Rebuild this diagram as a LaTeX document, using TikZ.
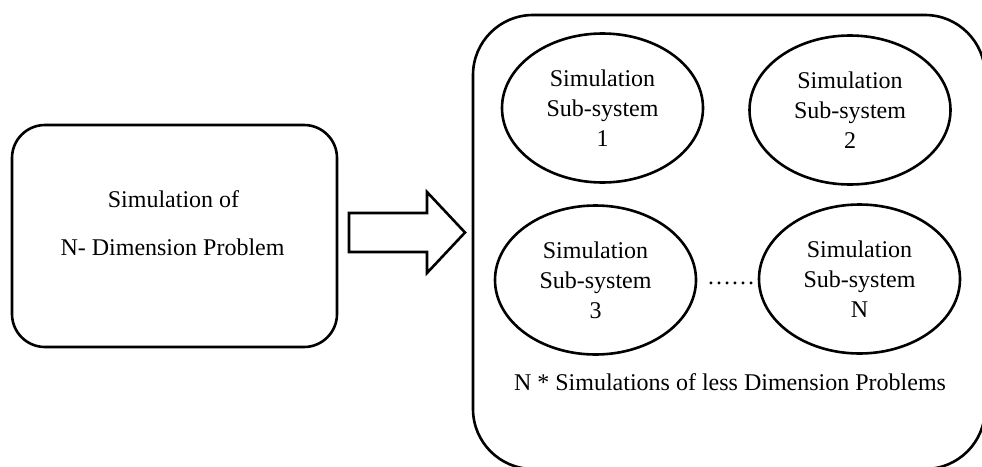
\documentclass[tikz,border=0pt]{standalone}
\usepackage{fontspec}
\setmainfont{Liberation Serif}
\usetikzlibrary{shapes.geometric}
\begin{document}
\begin{tikzpicture}[x=1pt,y=-1pt,
  line width=2.6pt,
  txt/.style={font=\fontsize{24}{30}\selectfont, inner sep=0pt, align=center},
  subsys/.style={draw, ellipse, minimum width=201pt, minimum height=149pt, inner sep=0pt,
                 font=\fontsize{24}{30}\selectfont, align=center},
  roundbox/.style={draw, rectangle, inner sep=0pt}]
\useasboundingbox (0,0) rectangle (982,466);
\clip (0,0) rectangle (982,466);

% original problem
\node[roundbox, rounded corners=33pt, minimum width=325pt, minimum height=222pt] (big) at (174.5,236) {};
\node[txt] (t1) at (173.5,199) {Simulation of};
\node[txt] (t2) at (172.5,247) {N- Dimension Problem};

% container of the decomposed problems
\node[roundbox, rounded corners=60pt, minimum width=512pt, minimum height=454pt] (dec) at (729,242) {};

% hollow block arrow
\coordinate (a1) at (349,213);
\coordinate (a2) at (427,213);
\coordinate (a3) at (427,192);
\coordinate (a4) at (465,232.5);
\coordinate (a5) at (427,273);
\coordinate (a6) at (427,252);
\coordinate (a7) at (349,252);
\draw[line join=miter] (a1) -- (a2) -- (a3) -- (a4) -- (a5) -- (a6) -- (a7) -- cycle;

% sub-systems
\node[subsys] (s1) at (602.5,108) {Simulation\\Sub-system\\1};
\node[subsys] (s2) at (850,110) {Simulation\\Sub-system\\2};
\node[subsys] (s3) at (595.5,280) {Simulation\\Sub-system\\3};
\node[subsys] (sn) at (859.5,279) {Simulation\\Sub-system\\N};
\node[txt] (dots) at (731,283) {……};

\node[txt] (cap) at (730,382) {N * Simulations of less Dimension Problems};
\end{tikzpicture}
\end{document}
